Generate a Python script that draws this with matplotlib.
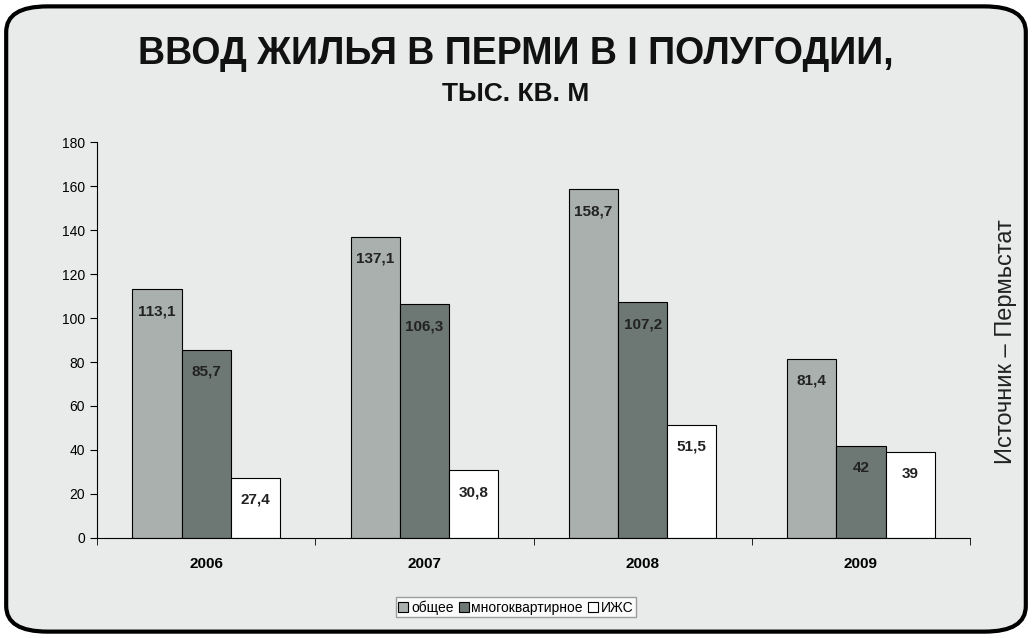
import numpy as np
import matplotlib.pyplot as plt
from matplotlib.patches import FancyBboxPatch

years = ["2006", "2007", "2008", "2009"]
total = [113.1, 137.1, 158.7, 81.4]
multi = [85.7, 106.3, 107.2, 42]
izhs = [27.4, 30.8, 51.5, 39]
labels_total = ["113,1", "137,1", "158,7", "81,4"]
labels_multi = ["85,7", "106,3", "107,2", "42"]
labels_izhs = ["27,4", "30,8", "51,5", "39"]
series_names = ["общее", "многоквартирное", "ИЖС"]

plt.rcParams['font.family'] = ['Liberation Sans', 'DejaVu Sans']

fig = plt.figure(figsize=(10.32, 6.38), dpi=100)
fig.patch.set_facecolor("white")
frame = FancyBboxPatch((0.006, 0.01), 0.988, 0.98, boxstyle="round,pad=0,rounding_size=0.04",
                       transform=fig.transFigure, facecolor="#e9ebea", edgecolor="black", lw=3,
                       zorder=-10)
fig.patches.append(frame)

fig.text(0.5, 0.915, "ВВОД ЖИЛЬЯ В ПЕРМИ В I ПОЛУГОДИИ,", ha="center", va="center",
         fontsize=27, fontweight="bold", color="#111")
fig.text(0.5, 0.853, "ТЫС. КВ. М", ha="center", va="center", fontsize=19, fontweight="bold", color="#111")
fig.text(0.975, 0.465, "Источник – Пермьстат", rotation=90, ha="center", va="center", fontsize=17, color="#222")

ax = fig.add_axes([0.094, 0.157, 0.846, 0.62])
ax.set_facecolor("none")
x = np.arange(len(years))
w = 0.225
colors = ["#a9b0ad", "#6d7773", "white"]
for i, (vals, labs) in enumerate([(total, labels_total), (multi, labels_multi), (izhs, labels_izhs)]):
    bars = ax.bar(x + (i - 1) * w, vals, w, color=colors[i], edgecolor="black", lw=0.8, label=series_names[i])
    for b, lab in zip(bars, labs):
        ax.text(b.get_x() + b.get_width() / 2, b.get_height() - 10, lab, ha="center", va="center",
                fontsize=11, fontweight="bold", color="#222")

ax.set_xlim(-0.5, 3.5)
ax.set_ylim(0, 180)
ax.set_yticks(range(0, 181, 20))
ax.set_xticks(x)
ax.set_xticklabels(years, fontsize=11, fontweight="bold")
ax.set_xticks(np.arange(-0.5, 3.6, 1), minor=True)
ax.tick_params(axis="x", which="major", length=0, pad=14)
ax.tick_params(axis="x", which="minor", length=5, direction="out")
ax.tick_params(axis="y", labelsize=10, length=5)
for s in ["top", "right"]:
    ax.spines[s].set_visible(False)

leg = fig.legend(loc="center", bbox_to_anchor=(0.5, 0.048), ncol=3, fontsize=10, frameon=True,
                 handlelength=0.7, handleheight=0.7, handletextpad=0.2, columnspacing=0.4,
                 borderpad=0.2, fancybox=False, edgecolor="#888")
leg.get_frame().set_facecolor("white")

fig.savefig("out.png", dpi=100)
